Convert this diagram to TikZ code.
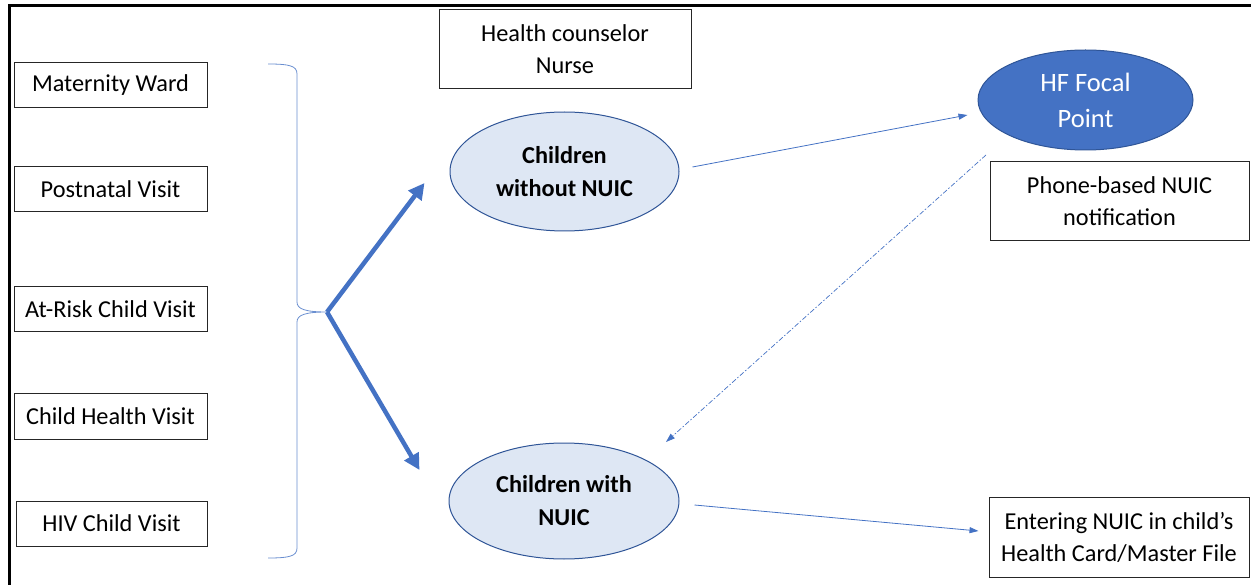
\documentclass[tikz,border=0pt]{standalone}
\usepackage{fontspec}
\setmainfont{Carlito}
\usetikzlibrary{arrows.meta,shapes.geometric,calc}
\definecolor{accent}{HTML}{4472C4}
\definecolor{lightfill}{HTML}{DEE7F4}
\definecolor{darkline}{HTML}{2F5597}
\begin{document}
\begin{tikzpicture}[x=1pt,y=-1pt,
  every node/.style={font=\fontsize{24.3}{32}\selectfont, align=center},
  srcbox/.style={draw=black!85, line width=1pt, minimum width=193pt, minimum height=45pt, inner sep=0pt},
  infobox/.style={draw=black!85, line width=1pt, inner sep=0pt},
  lightell/.style={ellipse, draw=darkline, line width=1pt, fill=lightfill, inner sep=0pt,
     font=\fontsize{24.3}{33}\selectfont\bfseries},
  thickarrow/.style={draw=accent, line width=4.5pt, -{Triangle[length=16pt,width=16pt]}},
  thinarrow/.style={draw=accent, line width=0.8pt, -{Triangle[length=9pt,width=6pt]}},
  dasharrow/.style={draw=accent, line width=0.7pt, dash pattern=on 5pt off 2pt on 1.5pt off 2pt, -{Triangle[length=9pt,width=6pt]}}
]
\useasboundingbox (0,0) rectangle (1251,585);
% frame (top and left)
\draw[line width=3pt] (9,585) -- (9,6) -- (1251,6);

% source boxes
\node[srcbox] (mw)  at (110.5,85.5)  {Maternity Ward};
\node[srcbox] (pv)  at (110.5,189.5) {Postnatal Visit};
\node[srcbox] (ar)  at (110.5,309)   {At-Risk Child Visit};
\node[srcbox] (ch)  at (110.5,416.5) {Child Health Visit};
\node[srcbox, minimum width=191pt] (hiv) at (111.5,523.5) {HIV Child Visit};

% brace
\coordinate (tip) at (327,312);
\draw[accent!80, line width=0.8pt]
  (268,64) .. controls (290,64) and (297,66) .. (297,74) -- (297,302)
  .. controls (297,309) and (305,312) .. (tip)
  .. controls (305,312) and (297,315) .. (297,322) -- (297,548)
  .. controls (297,556) and (290,558) .. (268,558);

% top box
\node[infobox, minimum width=252pt, minimum height=79pt] (hc) at (565,49.5) {Health counselor\\Nurse};

% ellipses
\node[lightell, minimum width=229pt, minimum height=119pt] (cwo) at (564.5,171.5) {Children\\without NUIC};
\node[lightell, minimum width=230pt, minimum height=116pt] (cw) at (564,501) {Children with\\NUIC};
\node[ellipse, draw=darkline, fill=accent, line width=1pt, minimum width=215pt, minimum height=100pt,
      text=white, font=\fontsize{26.5}{36}\selectfont, inner sep=0pt] (hf) at (1085.5,100) {HF Focal\\Point};

% right boxes
\node[infobox, minimum width=259pt, minimum height=79pt] (phone) at (1119.5,201.5) {Phone-based NUIC\\notification};
\node[infobox, minimum width=260pt, minimum height=80pt] (enter) at (1119,537) {Entering NUIC in child’s\\Health Card/Master File};

% arrows
\draw[thickarrow] (tip) -- ([shift={(-25,11.5)}]cwo.west);
\draw[thickarrow] (tip) -- ([shift={(-29,-31)}]cw.west);
\draw[thinarrow] ([shift={(13,-4.5)}]cwo.east) -- ([shift={(-10,15)}]hf.west);
\draw[dasharrow] ([shift={(-99.5,55)}]hf.center) -- ([shift={(102,-59)}]cw.center);
\draw[thinarrow] ([shift={(15,4)}]cw.east) -- ([shift={(-10,-6)}]enter.west);
\end{tikzpicture}
\end{document}
